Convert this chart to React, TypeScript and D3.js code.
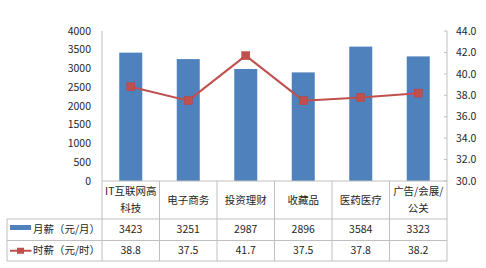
import React from "react";
import * as d3 from "d3";

const categories = ["IT互联网高|科技", "电子商务", "投资理财", "收藏品", "医药医疗", "广告/会展/|公关"];
const monthly = [3423, 3251, 2987, 2896, 3584, 3323];
const hourly = [38.8, 37.5, 41.7, 37.5, 37.8, 38.2];
const leftTicks = [0, 500, 1000, 1500, 2000, 2500, 3000, 3500, 4000];
const rightTicks = [30, 32, 34, 36, 38, 40, 42, 44];
const seriesNames = ["月薪（元/月）", "时薪（元/时）"];

const W = 486, H = 268;
const plotL = 102, plotR = 447, plotT = 31, plotB = 181;
const row1 = 219, row2 = 240.5, row3 = 261;
const tableL = 7;
const BLUE = "#4F81BD", RED = "#C0504D", GRID = "#BFBFBF", TXT = "#262626";
const FONT = "'Noto Sans CJK SC', 'Noto Sans', sans-serif";

export default function App() {
  const x = d3.scaleBand<string>().domain(categories).range([plotL, plotR]).paddingInner(0).paddingOuter(0);
  const yL = d3.scaleLinear().domain([0, 4000]).range([plotB, plotT]);
  const yR = d3.scaleLinear().domain([30, 44]).range([plotB, plotT]);
  const bw = x.bandwidth() * 0.4;
  const cx = (c: string) => (x(c) as number) + x.bandwidth() / 2;
  const linePath = d3.line<number>().x((_, i) => cx(categories[i])).y((d) => yR(d))(hourly) as string;
  const fs = 10.5;

  return (
    <svg width={W} height={H} style={{ position: "absolute", left: 0, top: 0, fontFamily: FONT }}>
      <rect width={W} height={H} fill="#fff" />
      {/* bars */}
      {categories.map((c, i) => (
        <rect key={c} x={cx(c) - bw / 2} y={yL(monthly[i])} width={bw} height={plotB - yL(monthly[i])} fill={BLUE} />
      ))}
      {/* left axis */}
      <line x1={plotL} x2={plotL} y1={plotT} y2={plotB} stroke={GRID} />
      {leftTicks.map((t) => (
        <text key={t} x={91} y={yL(t)} dy="0.35em" textAnchor="end" fontSize={fs} fill={TXT}>{t}</text>
      ))}
      {/* right axis */}
      <line x1={plotR} x2={plotR} y1={plotT} y2={plotB} stroke={GRID} />
      {rightTicks.map((t) => (
        <g key={t}>
          <line x1={plotR - 3} x2={plotR} y1={yR(t)} y2={yR(t)} stroke={GRID} />
          <text x={456} y={yR(t)} dy="0.35em" textAnchor="start" fontSize={fs} fill={TXT}>{t.toFixed(1)}</text>
        </g>
      ))}
      {/* line series */}
      <path d={linePath} fill="none" stroke={RED} strokeWidth={2} />
      {hourly.map((v, i) => (
        <rect key={i} x={cx(categories[i]) - 4} y={yR(v) - 4} width={8} height={8} fill={RED} stroke="#B9403D" strokeWidth={0.5} />
      ))}
      {/* data table */}
      <line x1={plotL} x2={plotR} y1={plotB} y2={plotB} stroke={GRID} />
      <line x1={tableL} x2={plotR} y1={row1} y2={row1} stroke={GRID} />
      <line x1={tableL} x2={plotR} y1={row2} y2={row2} stroke={GRID} />
      <line x1={tableL} x2={plotR} y1={row3} y2={row3} stroke={GRID} />
      <line x1={tableL} x2={tableL} y1={row1} y2={row3} stroke={GRID} />
      {categories.map((c) => (
        <line key={c} x1={x(c) as number} x2={x(c) as number} y1={plotB} y2={row3} stroke={GRID} />
      ))}
      <line x1={plotR} x2={plotR} y1={plotB} y2={row3} stroke={GRID} />
      {categories.map((c) => {
        const parts = c.split("|");
        const mid = (plotB + row1) / 2;
        return parts.map((p, j) => (
          <text key={c + j} x={cx(c)} y={parts.length === 1 ? mid : mid + (j === 0 ? -8.5 : 8.5)} dy="0.35em" textAnchor="middle" fontSize={fs} fill={TXT}>{p}</text>
        ));
      })}
      {monthly.map((v, i) => (
        <text key={"m" + i} x={cx(categories[i])} y={(row1 + row2) / 2} dy="0.35em" textAnchor="middle" fontSize={fs} fill={TXT}>{v}</text>
      ))}
      {hourly.map((v, i) => (
        <text key={"h" + i} x={cx(categories[i])} y={(row2 + row3) / 2} dy="0.35em" textAnchor="middle" fontSize={fs} fill={TXT}>{v.toFixed(1)}</text>
      ))}
      {/* legend keys */}
      <rect x={10} y={225} width={21} height={5} fill={BLUE} />
      <line x1={10} x2={31.5} y1={(row2 + row3) / 2} y2={(row2 + row3) / 2} stroke={RED} strokeWidth={2} />
      <rect x={17} y={(row2 + row3) / 2 - 3} width={7} height={6} fill={RED} />
      <text x={33} y={(row1 + row2) / 2} dy="0.35em" fontSize={fs} fill={TXT}>{seriesNames[0]}</text>
      <text x={33} y={(row2 + row3) / 2} dy="0.35em" fontSize={fs} fill={TXT}>{seriesNames[1]}</text>
    </svg>
  );
}
